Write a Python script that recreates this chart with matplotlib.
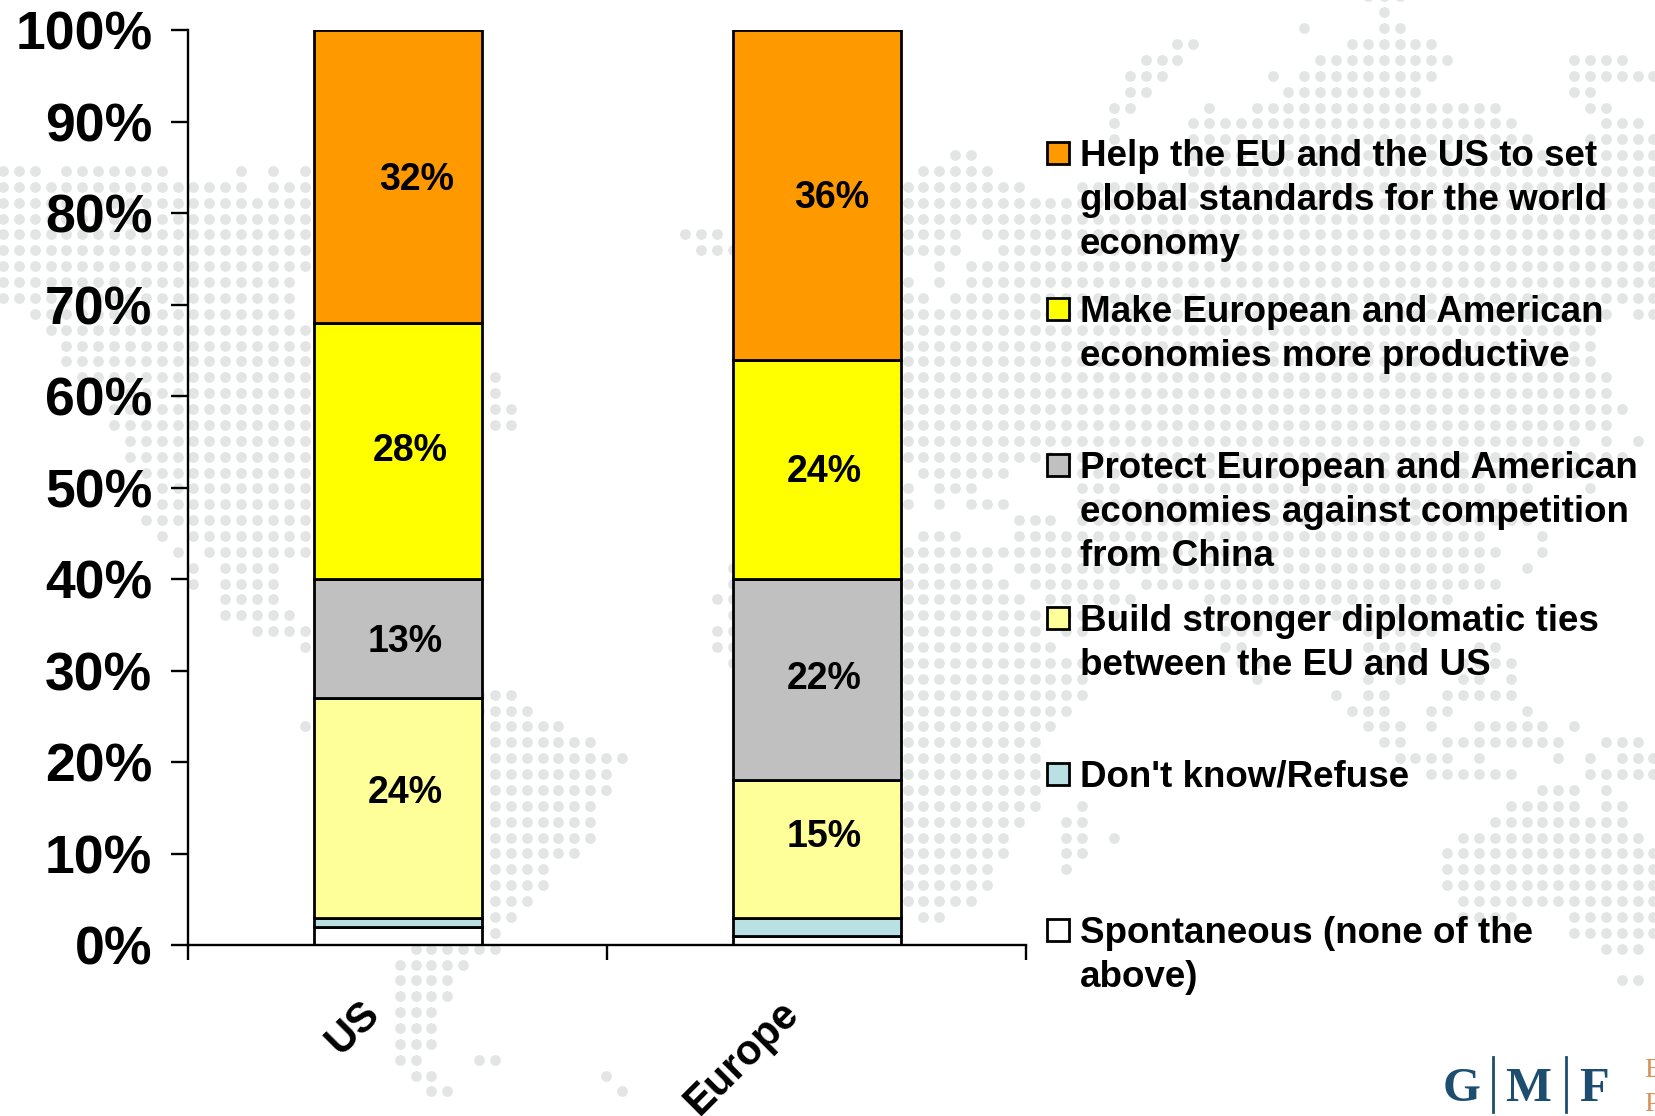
import numpy as np
import matplotlib
matplotlib.use("Agg")
import matplotlib.pyplot as plt
from matplotlib.patches import Rectangle
from matplotlib.transforms import ScaledTranslation

plt.rcParams['font.family'] = ['Liberation Sans', 'DejaVu Sans']
plt.rcParams['font.weight'] = 'bold'

# chart values
regions = ["US", "Europe"]
spontaneous = [2, 1]
dont_know = [1, 2]
diplomatic = [24, 15]
protect = [13, 22]
productive = [28, 24]
standards = [32, 36]
y_ticks = list(range(0, 101, 10))

series = [spontaneous, dont_know, diplomatic, protect, productive, standards]
colors = ['#FFFFFF', '#B9E0E2', '#FFFF99', '#C0C0C0', '#FFFF00', '#FF9900']
legend_text = [
    ["Help the EU and the US to set", "global standards for the world", "economy"],
    ["Make European and American", "economies more productive"],
    ["Protect European and American", "economies against competition", "from China"],
    ["Build stronger diplomatic ties", "between the EU and US"],
    ["Don't know/Refuse"],
    ["Spontaneous (none of the", "above)"],
]
legend_colors = ['#FF9900', '#FFFF00', '#C0C0C0', '#FFFF99', '#B9E0E2', '#FFFFFF']
legend_y = [153, 309, 465, 618, 774, 930]

# value labels sit off the bar centre, pixel shifts per region / series
label_dx = {2: [7, 7.5], 3: [7, 7.5], 4: [12, 7.5], 5: [19, 14.5]}
label_dy = {2: [15, 12], 3: [-3, 1], 4: [0, -3], 5: [-3, -3]}

# world map dots in the background: row -> (first col, last col)
dot_rows = {
    -11: [(86, 88)], -10: [(87, 87)], -9: [(82, 82), (87, 88)],
    -8: [(74, 75), (85, 90)],
    -7: [(72, 74), (83, 91), (99, 102)],
    -6: [(71, 73), (80, 80), (82, 90), (99, 104)],
    -5: [(71, 72), (81, 89), (99, 100)],
    -4: [(70, 71), (76, 76), (79, 94), (100, 101)],
    -3: [(70, 70), (75, 95), (101, 103)],
    -2: [(70, 70), (75, 96), (100, 104)],
    -1: [(60, 61), (75, 97), (100, 104)],
    0: [(0, 2), (4, 10), (15, 15), (17, 17), (19, 19), (58, 62), (75, 104)],
    1: [(0, 15), (17, 19), (57, 64), (68, 104)],
    2: [(0, 19), (57, 104)],
    3: [(0, 19), (57, 104)],
    4: [(0, 19), (43, 45), (57, 60), (62, 104)],
    5: [(0, 19), (44, 46), (57, 60), (63, 104)],
    6: [(0, 19), (59, 59), (61, 104)],
    7: [(0, 18), (57, 57), (59, 59), (61, 104)],
    8: [(0, 18), (57, 58), (60, 104)],
    9: [(2, 18), (57, 101), (103, 104)],
    10: [(3, 19), (57, 100)],
    11: [(4, 19), (57, 100)],
    12: [(4, 19), (57, 100)],
    13: [(5, 19), (31, 31), (57, 101)],
    14: [(7, 19), (31, 31), (57, 101)],
    15: [(7, 19), (31, 32), (57, 102)],
    16: [(7, 19), (31, 32), (57, 101)],
    17: [(8, 19), (57, 99), (101, 101), (103, 103)],
    18: [(8, 19), (57, 102)],
    19: [(9, 19), (58, 63), (68, 100)],
    20: [(10, 19), (57, 57), (59, 61), (68, 70), (73, 93), (95, 96), (100, 100)],
    21: [(10, 19), (57, 57), (59, 59), (61, 63), (68, 96)],
    22: [(9, 19), (64, 66), (68, 96)],
    23: [(10, 10), (12, 19), (58, 60), (64, 93), (97, 97)],
    24: [(11, 11), (13, 19), (57, 94), (97, 97)],
    25: [(12, 12), (14, 17), (46, 46), (57, 62), (64, 93), (96, 96)],
    26: [(12, 12), (14, 17), (46, 46), (57, 63), (65, 70), (72, 94)],
    27: [(14, 17), (45, 46), (57, 64), (66, 71), (76, 91)],
    28: [(14, 18), (46, 46), (57, 65), (67, 70), (75, 90)],
    29: [(16, 19), (45, 46), (57, 65), (67, 68), (77, 79), (86, 90)],
    30: [(19, 19), (45, 46), (57, 66), (77, 78), (86, 89), (93, 94)],
    31: [(46, 46), (57, 68), (78, 79), (86, 89), (92, 95)],
    32: [(57, 68), (79, 79), (86, 86), (88, 88), (92, 93), (95, 95)],
    33: [(30, 32), (57, 68), (84, 84), (86, 87), (91, 95)],
    34: [(30, 33), (57, 67), (85, 87), (90, 91), (96, 96)],
    35: [(19, 19), (31, 35), (57, 66), (86, 88), (90, 90), (93, 97), (99, 99)],
    36: [(31, 37), (57, 65), (87, 88), (91, 98), (101, 103)],
    37: [(31, 39), (57, 65), (88, 91), (93, 93), (98, 98), (100, 100), (102, 104)],
    38: [(31, 38), (57, 65), (90, 95), (100, 104)],
    39: [(31, 38), (57, 65), (97, 99), (101, 101)],
    40: [(31, 37), (57, 65), (68, 68), (95, 99), (101, 102)],
    41: [(31, 37), (57, 64), (67, 68), (94, 102)],
    42: [(31, 37), (57, 63), (67, 68), (70, 70), (92, 103)],
    43: [(31, 36), (57, 63), (67, 68), (91, 104)],
    44: [(31, 34), (57, 62), (67, 67), (91, 104)],
    45: [(31, 34), (57, 62), (91, 104)],
    46: [(31, 33), (57, 61), (92, 104)],
    47: [(31, 32), (58, 59), (92, 95), (99, 104)],
    48: [(31, 31), (99, 104)],
    49: [(26, 31), (101, 103)],
    50: [(25, 29)],
    51: [(25, 28), (102, 103)],
    52: [(25, 28)],
    53: [(25, 27)], 54: [(25, 27)], 55: [(25, 27)],
    56: [(25, 26), (30, 31)],
    57: [(26, 27), (38, 38)],
    58: [(27, 28), (39, 39)],
}

W, H = 1655, 1116
fig = plt.figure(figsize=(W / 100, H / 100), dpi=100, facecolor='white')

# overlay in pixel coordinates for the background, legend and logo
bg = fig.add_axes([0, 0, 1, 1], zorder=0)
bg.set_xlim(0, W)
bg.set_ylim(H, 0)
bg.axis('off')

dot_x, dot_y = [], []
for row, spans in dot_rows.items():
    for first, last in spans:
        for col in range(first, last + 1):
            dot_x.append(3 + 15.87 * col)
            dot_y.append(171 + 15.87 * row)
bg.scatter(dot_x, dot_y, s=60, color='#E3E5E5', linewidths=0, zorder=1)

# legend, drawn by hand because the entries are unevenly spaced
for i, lines in enumerate(legend_text):
    yc = legend_y[i]
    bg.add_patch(Rectangle((1047, yc - 11), 22, 22, facecolor=legend_colors[i],
                           edgecolor='black', linewidth=2, zorder=3))
    for j, line in enumerate(lines):
        bg.text(1080, yc + 12.7 + 44 * j, line, fontsize=26.5, color='black',
                va='baseline', ha='left', zorder=4)

# logo
navy = '#1D4E70'
for letter, x in zip("GMF", [1462, 1528, 1594]):
    bg.text(x, 1101, letter, family='Liberation Serif', fontsize=35, color=navy,
            ha='center', va='baseline', zorder=4)
for x in [1493, 1566]:
    bg.plot([x, x], [1057, 1112], color=navy, lw=2, zorder=4)
bg.text(1644.5, 1077, "E", family='Liberation Serif', weight='normal', fontsize=20,
        color='#D8925A', va='baseline', zorder=4)
bg.text(1644.5, 1111, "P", family='Liberation Serif', weight='normal', fontsize=20,
        color='#D8925A', va='baseline', zorder=4)

# the chart itself
ax = fig.add_axes([188.4 / W, 1 - 945 / H, (1026.3 - 188.4) / W, (945 - 30.3) / H], zorder=2)
ax.patch.set_alpha(0)
x = np.array([0.5, 1.5])
bottom = np.zeros(2)
for idx, vals in enumerate(series):
    vals = np.array(vals)
    ax.bar(x, vals, width=0.4, bottom=bottom, color=colors[idx], edgecolor='black',
           linewidth=2, zorder=2)
    if idx >= 2:
        for b in range(2):
            ax.annotate(f"{vals[b]}%", (x[b], bottom[b] + vals[b] / 2),
                        xytext=(label_dx[idx][b] * 0.72, label_dy[idx][b] * 0.72),
                        textcoords='offset points', ha='center', va='center',
                        fontsize=27, color='black', zorder=5)
    bottom = bottom + vals

ax.set_xlim(0, 2)
ax.set_ylim(0, 100)
for side in ['top', 'right']:
    ax.spines[side].set_visible(False)
for side in ['left', 'bottom']:
    ax.spines[side].set_linewidth(1.7)
    ax.spines[side].set_zorder(6)

ax.set_yticks(y_ticks)
ax.set_yticklabels([f"{t}%" for t in y_ticks], fontsize=38.5)
ax.tick_params(axis='y', length=12, width=1.7, pad=14)

ax.set_xticks([0, 1, 2])
ax.set_xticklabels([])
ax.tick_params(axis='x', which='major', length=11, width=1.7)
ax.set_xticks(x, minor=True)
ax.set_xticklabels(regions, minor=True, fontsize=30, rotation=45, ha='right',
                   va='center', rotation_mode='anchor')
ax.tick_params(axis='x', which='minor', length=0, pad=45)
shift = ScaledTranslation(-0.24, 0, fig.dpi_scale_trans)
for lab in ax.get_xticklabels(minor=True):
    lab.set_transform(lab.get_transform() + shift)

fig.savefig('out.png', dpi=100)
